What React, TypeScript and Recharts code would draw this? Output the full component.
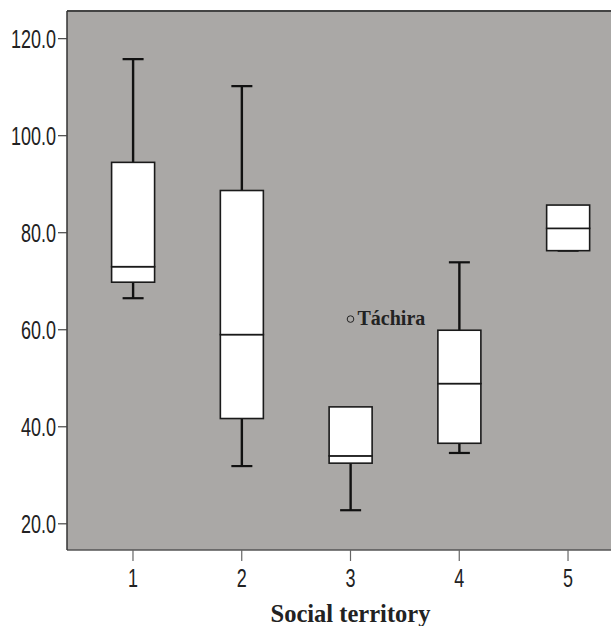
import React from "react";
import {
  ComposedChart,
  Bar,
  Line,
  XAxis,
  YAxis,
  CartesianGrid,
  ReferenceLine,
} from "recharts";

// box plot values per social territory
const categories = ["1", "2", "3", "4", "5"];
const mins = [66.5, 31.9, 22.8, 34.6, 76.3];
const q1s = [69.8, 41.7, 32.5, 36.6, 76.3];
const medians = [73.0, 59.0, 34.0, 48.9, 80.9];
const q3s = [94.5, 88.7, 44.1, 59.9, 85.7];
const maxs = [115.8, 110.2, 44.1, 73.9, 85.7];
const outliers = [null, null, 62.2, null, null];
const outlierLabels = ["", "", "Táchira", "", ""];
const yTicks = [20, 40, 60, 80, 100, 120];

const data = categories.map((c, i) => ({
  name: c,
  whisker: [mins[i], maxs[i]],
  lower: [q1s[i], medians[i]],
  upper: [medians[i], q3s[i]],
  outlier: outliers[i],
  label: outlierLabels[i],
}));

const BOX_W = 43;
const CAP_W = 21;

const Whisker = (props) => {
  const { x, y, width, height, payload } = props;
  const cx = x + width / 2;
  // no top cap when the max sits on the box edge
  const topCap = payload.whisker[1] > payload.upper[1];
  return (
    <g>
      <line x1={cx} x2={cx} y1={y} y2={y + height} stroke="#111" strokeWidth={2.4} />
      {topCap && (
        <line x1={cx - CAP_W / 2} x2={cx + CAP_W / 2} y1={y} y2={y} stroke="#111" strokeWidth={2.2} />
      )}
      <line
        x1={cx - CAP_W / 2}
        x2={cx + CAP_W / 2}
        y1={y + height}
        y2={y + height}
        stroke="#111"
        strokeWidth={2.2}
      />
    </g>
  );
};

const BoxHalf = (props) => {
  const { x, y, width, height } = props;
  return (
    <rect x={x} y={y} width={width} height={Math.abs(height)} fill="#fff" stroke="#1a1a1a" strokeWidth={1.6} />
  );
};

const OutlierDot = (props) => {
  const { cx, cy, payload, index } = props;
  if (payload.outlier == null) return <g key={index} />;
  return (
    <g key={index}>
      <circle cx={cx} cy={cy} r={3.3} fill="none" stroke="#222" strokeWidth={1} />
      <text
        x={cx + 7}
        y={cy + 6}
        fontFamily="'Liberation Serif', 'Times New Roman', serif"
        fontWeight="bold"
        fontSize={20}
        fill="#222"
      >
        {payload.label}
      </text>
    </g>
  );
};

const YTick = ({ x, y, payload }) => (
  <text
    x={0}
    y={0}
    transform={`translate(${x},${y}) scale(0.72,1)`}
    dy={9}
    textAnchor="end"
    fontSize={25}
    fontFamily="'Liberation Sans', Arial, sans-serif"
    fill="#222"
  >
    {Number(payload.value).toFixed(1)}
  </text>
);

const XTick = ({ x, y, payload }) => (
  <text
    x={0}
    y={0}
    transform={`translate(${x},${y}) scale(0.72,1)`}
    dy={26}
    textAnchor="middle"
    fontSize={25}
    fontFamily="'Liberation Sans', Arial, sans-serif"
    fill="#222"
  >
    {payload.value}
  </text>
);

export default function App() {
  return (
    <div style={{ position: "absolute", left: 8, top: 8, width: 603, height: 618, overflow: "hidden" }}>
      <ComposedChart
        width={626}
        height={618}
        data={data}
        margin={{ top: 3, right: 0, bottom: 0, left: 0 }}
        barGap={-BOX_W}
      >
        <CartesianGrid fill="#aaa8a6" stroke="none" horizontal={false} vertical={false} />
        <XAxis
          dataKey="name"
          height={76}
          padding={{ left: 11.6, right: 11.6 }}
          axisLine={{ stroke: "#555", strokeWidth: 1.5 }}
          tickLine={{ stroke: "#666", strokeWidth: 1.2 }}
          tickSize={11}
          tickMargin={0}
          tick={<XTick />}
          label={{
            value: "Social territory",
            position: "insideBottom",
            offset: 4,
            fontFamily: "'Liberation Serif', 'Times New Roman', serif",
            fontWeight: "bold",
            fontSize: 24.5,
            fill: "#222",
          }}
        />
        <YAxis
          width={59}
          domain={[14.6, 125.7]}
          allowDataOverflow
          ticks={yTicks}
          axisLine={{ stroke: "#333", strokeWidth: 1.5 }}
          tickLine={{ stroke: "#444", strokeWidth: 1.2 }}
          tickSize={9}
          tickMargin={2}
          tick={<YTick />}
        />
        <ReferenceLine y={125.7} stroke="#444" strokeWidth={2} />
        <Bar dataKey="whisker" barSize={BOX_W} shape={<Whisker />} isAnimationActive={false} />
        <Bar dataKey="lower" barSize={BOX_W} shape={<BoxHalf />} isAnimationActive={false} />
        <Bar dataKey="upper" barSize={BOX_W} shape={<BoxHalf />} isAnimationActive={false} />
        <Line
          dataKey="outlier"
          stroke="none"
          dot={<OutlierDot />}
          activeDot={false}
          isAnimationActive={false}
        />
      </ComposedChart>
    </div>
  );
}
